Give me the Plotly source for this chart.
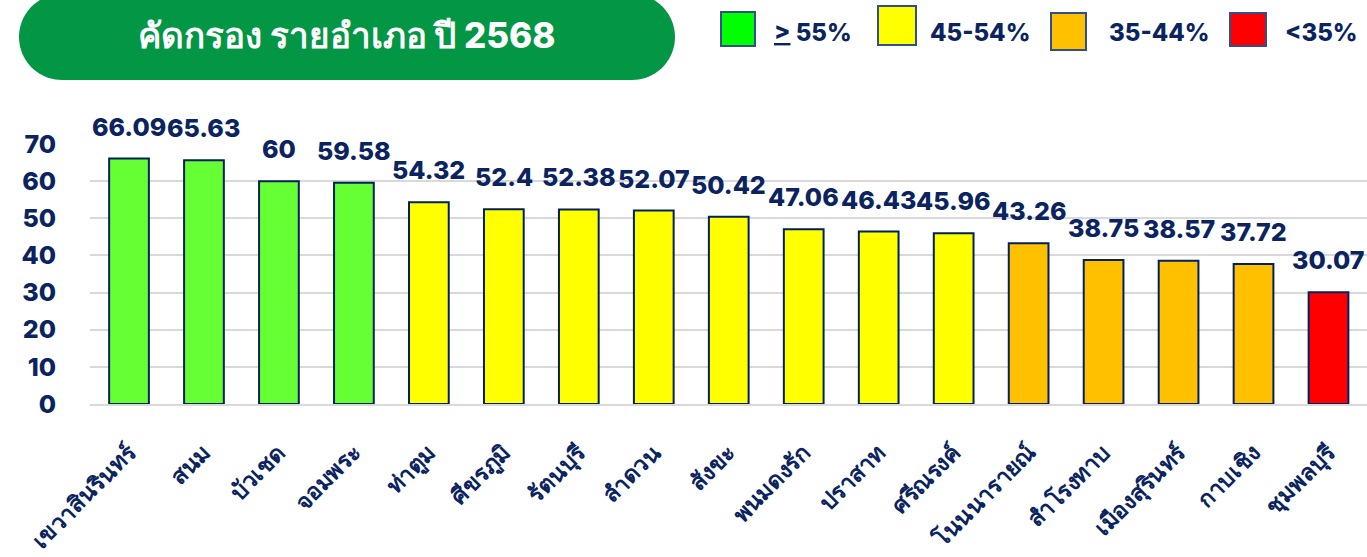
import math
import plotly.graph_objects as go

# District screening rates (percent), sorted high to low
districts = [
    "เขวาสินรินทร์", "สนม", "บัวเชด", "จอมพระ", "ท่าตูม", "ศีขรภูมิ",
    "รัตนบุรี", "ลำดวน", "สังขะ", "พนมดงรัก", "ปราสาท", "ศรีณรงค์",
    "โนนนารายณ์", "สำโรงทาบ", "เมืองสุรินทร์", "กาบเชิง", "ชุมพลบุรี",
]
rates = [66.09, 65.63, 60, 59.58, 54.32, 52.4, 52.38, 52.07, 50.42,
         47.06, 46.43, 45.96, 43.26, 38.75, 38.57, 37.72, 30.07]

# Colour bands: lower bound, bar colour, legend swatch colour, legend text
band_lows = [55, 45, 35, 0]
band_colors = ["#66FF33", "#FFFF00", "#FFC000", "#FF0000"]
band_fill_legend = ["#00FF00", "#FFFF00", "#FFC000", "#FF0000"]
band_labels = ["<u>></u> 55%", "45-54%", "35-44%", "<35%"]

y_ticks = [0, 10, 20, 30, 40, 50, 60, 70]

title_text = "คัดกรอง รายอำเภอ ปี 2568"

NAVY = "#0B2460"
FONT = "Inter, 'Noto Sans', sans-serif"

W, H = 1367, 557
ML, MR, MT, MB = 90, 0, 144, 153
PW = W - ML - MR
PH = H - MT - MB


def band_color(v):
    for lo, c in zip(band_lows, band_colors):
        if v >= lo:
            return c
    return band_colors[-1]


def fx(x):
    return (x - ML) / PW


def fy(y):
    return (H - MB - y) / PH


fig = go.Figure()
fig.add_trace(go.Bar(
    x=districts,
    y=rates,
    marker=dict(color=[band_color(v) for v in rates],
                line=dict(color="#002060", width=2)),
    width=0.53,
    hoverinfo="x+y",
))

# value labels above each bar
annotations = []
for d, v in zip(districts, rates):
    annotations.append(dict(
        x=d, y=v, xref="x", yref="y", text=f"{v:g}", showarrow=False,
        yanchor="bottom", yshift=15,
        font=dict(family=FONT, size=25, color=NAVY, weight=800),
    ))

# title pill: two semicircles joined by straight edges
x0, x1, y0, y1 = 19, 675, -6, 80
mid = (y0 + y1) / 2
rad = (y1 - y0) / 2
pts = []
for i in range(0, 41):
    a = math.pi / 2 + math.pi * i / 40
    pts.append((x0 + rad + rad * math.cos(a), mid - rad * math.sin(a)))
for i in range(0, 41):
    a = -math.pi / 2 + math.pi * i / 40
    pts.append((x1 - rad + rad * math.cos(a), mid - rad * math.sin(a)))
path = "M " + " L ".join(f"{fx(px):.5f},{fy(py):.5f}" for px, py in pts) + " Z"

shapes = [dict(type="path", path=path, xref="paper", yref="paper",
               fillcolor="#039645", line=dict(width=0), layer="above")]
annotations.append(dict(
    x=fx(347), y=fy(35), xref="paper", yref="paper", text=title_text,
    showarrow=False, xanchor="center", yanchor="middle",
    font=dict(family=FONT, size=35, color="white", weight=800),
))

# legend swatches and labels
sq = [(721, 12, 755, 46), (878, 6, 916, 45), (1051, 13, 1086, 50), (1230, 13, 1266, 46)]
lab_x = [772, 928, 1107, 1283]
for (a, b, c, d), col, lab, lx in zip(sq, band_fill_legend, band_labels, lab_x):
    shapes.append(dict(type="rect", xref="paper", yref="paper",
                       x0=fx(a), x1=fx(c), y0=fy(d), y1=fy(b),
                       fillcolor=col, line=dict(color="#2F4F8F", width=2)))
    annotations.append(dict(
        x=fx(lx), y=fy(33), xref="paper", yref="paper", text=lab,
        showarrow=False, xanchor="left", yanchor="middle",
        font=dict(family=FONT, size=24, color=NAVY, weight=800),
    ))

fig.update_layout(
    width=W, height=H,
    margin=dict(l=ML, r=MR, t=MT, b=MB, pad=0, autoexpand=False),
    paper_bgcolor="white", plot_bgcolor="white",
    showlegend=False,
    annotations=annotations,
    shapes=shapes,
    xaxis=dict(
        tickangle=-45, showgrid=False, showline=True, linecolor="#D9D9D9",
        linewidth=2, ticks="outside", ticklen=24, tickcolor="rgba(0,0,0,0)",
        tickfont=dict(family=FONT, size=23, color=NAVY, weight=800),
        fixedrange=True, automargin=False,
    ),
    yaxis=dict(
        range=[0, 70], tickvals=y_ticks, showgrid=True, gridcolor="#D9D9D9",
        gridwidth=2, zeroline=False, showline=False, ticks="outside",
        ticklen=28, tickcolor="rgba(0,0,0,0)",
        tickfont=dict(family=FONT, size=25, color=NAVY, weight=800),
        fixedrange=True, automargin=False,
    ),
)

fig.write_html("out.html")
